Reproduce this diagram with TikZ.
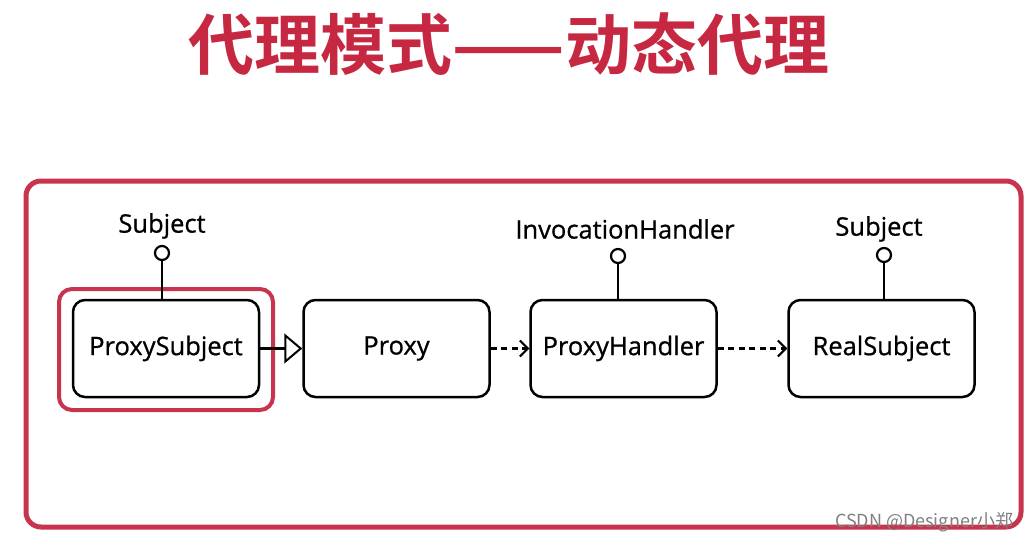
\documentclass[tikz,border=0pt]{standalone}
\usepackage{fontspec}
\setmainfont[FakeBold=0.8]{Open Sans}
\newfontfamily\cjk{Noto Sans CJK SC}
\newfontfamily\cjkbold{Noto Sans CJK SC Bold}
\usetikzlibrary{arrows.meta}
\definecolor{frame}{RGB}{200,52,78}
\definecolor{titlered}{RGB}{198,40,66}
\begin{document}
\begin{tikzpicture}[x=1pt,y=-1pt,
  box/.style={draw=black,line width=2.5pt,rounded corners=12pt,minimum width=186pt,minimum height=97pt,inner sep=0pt,font=\fontsize{25.5}{29}\selectfont},
  lolli/.style={circle,draw=black,line width=2.2pt,fill=white,minimum size=14pt,inner sep=0pt},
  stem/.style={line width=2.5pt},
  lbl/.style={font=\fontsize{25.5}{29}\selectfont,inner sep=0pt},
  dep/.style={line width=2.1pt,dash pattern=on 6pt off 4.5pt,-{Straight Barb[length=8pt,width=16pt,line width=2pt]}},
  gen/.style={line width=2.1pt,-{Triangle[open,length=18pt,width=30pt,line width=2pt]}},
  redframe/.style={draw=frame,rounded corners=15pt}]
\useasboundingbox (0,0) rectangle (1036,543);
\fill[white] (0,0) rectangle (1036,543);
% title
\node[anchor=base,text=titlered,font=\cjkbold\fontsize{66}{72}\selectfont,inner sep=0pt] (title) at (509,70) {代理模式——动态代理};
% frames
\draw[redframe,line width=5pt] (26,181) rectangle (1021,527);
\draw[redframe,line width=4pt,rounded corners=13pt] (59,289) rectangle (273,410);
% boxes
\node[box] (ps) at (166,348.5) {ProxySubject};
\node[box] (px) at (396.5,348.5) {Proxy};
\node[box] (ph) at (623.5,348.5) {ProxyHandler};
\node[box] (rs) at (881.5,348.5) {RealSubject};
% lollipops
\node[lolli] (c1) at (162,253) {};
\node[lolli] (c2) at (618,256) {};
\node[lolli] (c3) at (884,255) {};
\draw[stem] (c1.south) -- (c1.south |- ps.north);
\draw[stem] (c2.south) -- (c2.south |- ph.north);
\draw[stem] (c3.south) -- (c3.south |- rs.north);
\node[lbl] (l1) at (162,226) {Subject};
\node[lbl] (l2) at (625,229) {InvocationHandler};
\node[lbl] (l3) at (879,229) {Subject};
% connectors
\draw[gen] (ps.east) -- (px.west);
\draw[dep] (px.east) -- (ph.west);
\draw[dep] (ph.east) -- (rs.west);
% watermark
\node[text=black!50,font=\cjk\fontsize{18}{20}\selectfont,inner sep=0pt] (wm) at (924,522) {CSDN @Designer小郑};
\end{tikzpicture}
\end{document}
